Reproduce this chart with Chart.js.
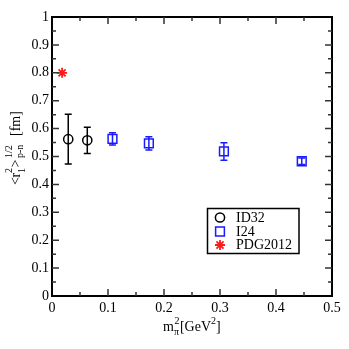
<!DOCTYPE html>
<html>
<head>
<meta charset="utf-8">
<script src="https://cdn.jsdelivr.net/npm/chart.js@4.4.1/dist/chart.umd.min.js"></script>
<style>
  html, body { margin: 0; padding: 0; background: #ffffff; }
  canvas { display: block; }
</style>
</head>
<body>
<canvas id="radiusChart" width="349" height="349"></canvas>
<script>
// ============================================
// DATA
// ============================================

const ID32_X = [0.029, 0.063];
const ID32_Y = [0.562, 0.558];
const ID32_ERR = [0.089, 0.047];

const I24_X = [0.108, 0.173, 0.307, 0.446];
const I24_Y = [0.563, 0.547, 0.518, 0.483];
const I24_ERR = [0.022, 0.024, 0.031, 0.012];

const PDG_X = [0.018];
const PDG_Y = [0.80];

const X_TICKS = [0, 0.1, 0.2, 0.3, 0.4, 0.5];
const Y_TICKS = [0, 0.1, 0.2, 0.3, 0.4, 0.5, 0.6, 0.7, 0.8, 0.9, 1];

const LEGEND_LABELS = ["ID32", "I24", "PDG2012"];


const SERIF = '"Liberation Serif", "DejaVu Serif", serif';
const BLACK = "#000000";
const BLUE = "#1a1aff";
const RED = "#ff1a1a";


function toPoints(xs, ys, errs) {
  return xs.map((x, i) => ({ x, y: ys[i], err: errs ? errs[i] : 0 }));
}

function tickLabel(v) {
  return Number.isInteger(v) ? String(v) : v.toFixed(1);
}


// ============================================
// ERROR BARS
// ============================================

const errorBarPlugin = {
  id: "errorBars",
  afterDatasetsDraw(chart) {
    const { ctx, scales: { x, y } } = chart;
    chart.data.datasets.forEach(ds => {
      if (!ds.errorBars) return;
      ctx.save();
      ctx.strokeStyle = ds.borderColor;
      ctx.lineWidth = 1.5;
      ds.data.forEach(p => {
        if (!p.err) return;
        const px = x.getPixelForValue(p.x);
        const top = y.getPixelForValue(p.y + p.err);
        const bot = y.getPixelForValue(p.y - p.err);
        const cap = 3.5;
        ctx.beginPath();
        ctx.moveTo(px, top);
        ctx.lineTo(px, bot);
        ctx.moveTo(px - cap, top);
        ctx.lineTo(px + cap, top);
        ctx.moveTo(px - cap, bot);
        ctx.lineTo(px + cap, bot);
        ctx.stroke();
      });
      ctx.restore();
    });
  }
};


// ============================================
// FRAME, TICKS, TITLES, LEGEND
// ============================================

function drawParts(ctx, parts) {
  parts.forEach(p => {
    ctx.font = p.size + "px " + SERIF;
    ctx.fillText(p.t, p.u, p.v);
  });
}

const decorPlugin = {
  id: "decor",
  afterDraw(chart) {
    const { ctx, chartArea: a, scales: { x, y } } = chart;
    ctx.save();

    // frame
    ctx.strokeStyle = BLACK;
    ctx.lineWidth = 2;
    ctx.strokeRect(a.left, a.top, a.right - a.left, a.bottom - a.top);

    // inward ticks on all four sides
    ctx.lineWidth = 1.5;
    ctx.strokeStyle = "#333333";
    ctx.beginPath();
    for (let i = 1; i < 10; i++) {
      const len = i % 2 === 0 ? 7 : 4;
      const px = x.getPixelForValue(i * 0.05);
      ctx.moveTo(px, a.bottom); ctx.lineTo(px, a.bottom - len);
      ctx.moveTo(px, a.top); ctx.lineTo(px, a.top + len);
    }
    for (let i = 1; i < 20; i++) {
      const len = i % 2 === 0 ? 7 : 4;
      const py = y.getPixelForValue(i * 0.05);
      ctx.moveTo(a.left, py); ctx.lineTo(a.left + len, py);
      ctx.moveTo(a.right, py); ctx.lineTo(a.right - len, py);
    }
    ctx.stroke();

    // y title, rotated
    ctx.fillStyle = BLACK;
    ctx.textBaseline = "alphabetic";
    ctx.textAlign = "left";
    ctx.save();
    ctx.translate(20, 185);
    ctx.rotate(-Math.PI / 2);
    drawParts(ctx, [
      { t: "<", u: 0, v: 0, size: 14 },
      { t: "r", u: 7.5, v: 0, size: 14 },
      { t: "2", u: 12, v: -8, size: 10 },
      { t: "1", u: 12, v: 5, size: 10 },
      { t: ">", u: 17.5, v: 0, size: 14 },
      { t: "1/2", u: 27, v: -8, size: 10 },
      { t: "p-n", u: 27, v: 3, size: 10 },
      { t: "[fm]", u: 49, v: 0, size: 14 }
    ]);
    ctx.restore();

    // x title
    ctx.font = "14px " + SERIF;
    let cx = 163;
    ctx.fillText("m", cx, 331);
    cx += ctx.measureText("m").width;
    ctx.font = "10px " + SERIF;
    ctx.fillText("\u03c0", cx, 335);
    ctx.fillText("2", cx + 0.5, 324);
    cx += ctx.measureText("\u03c0").width + 1;
    ctx.font = "14px " + SERIF;
    ctx.fillText("[GeV", cx, 331);
    cx += ctx.measureText("[GeV").width;
    ctx.font = "10px " + SERIF;
    ctx.fillText("2", cx, 324);
    cx += ctx.measureText("2").width;
    ctx.font = "14px " + SERIF;
    ctx.fillText("]", cx, 331);

    // legend box
    ctx.lineWidth = 1.5;
    ctx.strokeStyle = BLACK;
    ctx.strokeRect(207.5, 208.5, 91.5, 45);
    const rows = [217.5, 231.5, 245];
    chart.data.datasets.forEach((ds, i) => {
      ctx.save();
      ctx.strokeStyle = ds.borderColor;
      ctx.fillStyle = "rgba(0,0,0,0)";
      ctx.lineWidth = ds.borderWidth;
      Chart.helpers.drawPoint(ctx, {
        pointStyle: ds.pointStyle,
        radius: ds.pointRadius,
        borderWidth: ds.borderWidth,
        rotation: 0
      }, 220, rows[i]);
      ctx.restore();
      ctx.fillStyle = BLACK;
      ctx.font = "14px " + SERIF;
      ctx.textBaseline = "middle";
      ctx.fillText(LEGEND_LABELS[i], 236, rows[i] + 0.5);
    });

    ctx.restore();
  }
};


// ============================================
// CHART
// ============================================

function axisTicks(values) {
  return s => { s.ticks = values.map(v => ({ value: v })); };
}

new Chart(document.getElementById("radiusChart"), {
  type: "scatter",
  data: {
    datasets: [
      {
        label: LEGEND_LABELS[0],
        data: toPoints(ID32_X, ID32_Y, ID32_ERR),
        pointStyle: "circle",
        pointRadius: 4.6,
        borderWidth: 1.5,
        borderColor: BLACK,
        backgroundColor: "rgba(0,0,0,0)",
        errorBars: true
      },
      {
        label: LEGEND_LABELS[1],
        data: toPoints(I24_X, I24_Y, I24_ERR),
        pointStyle: "rect",
        pointRadius: 6.2,
        borderWidth: 1.5,
        borderColor: BLUE,
        backgroundColor: "rgba(0,0,0,0)",
        errorBars: true
      },
      {
        label: LEGEND_LABELS[2],
        data: toPoints(PDG_X, PDG_Y),
        pointStyle: "star",
        pointRadius: 5,
        borderWidth: 1.8,
        borderColor: RED,
        backgroundColor: RED
      }
    ]
  },
  options: {
    responsive: false,
    animation: false,
    devicePixelRatio: 1,
    layout: { padding: { top: 17, right: 17, left: 0, bottom: 0 } },
    plugins: {
      legend: { display: false },
      tooltip: { enabled: false }
    },
    scales: {
      x: {
        type: "linear",
        min: 0,
        max: 0.5,
        afterBuildTicks: axisTicks(X_TICKS),
        afterFit: s => { s.height = 53; },
        grid: { display: false, drawTicks: false },
        border: { display: false },
        ticks: {
          color: BLACK,
          padding: 4,
          maxRotation: 0,
          font: { family: SERIF, size: 14 },
          callback: tickLabel
        }
      },
      y: {
        type: "linear",
        min: 0,
        max: 1,
        afterBuildTicks: axisTicks(Y_TICKS),
        afterFit: s => { s.width = 52; },
        grid: { display: false, drawTicks: false },
        border: { display: false },
        ticks: {
          color: BLACK,
          padding: 3,
          font: { family: SERIF, size: 14 },
          callback: tickLabel
        }
      }
    }
  },
  plugins: [errorBarPlugin, decorPlugin]
});
</script>
</body>
</html>
